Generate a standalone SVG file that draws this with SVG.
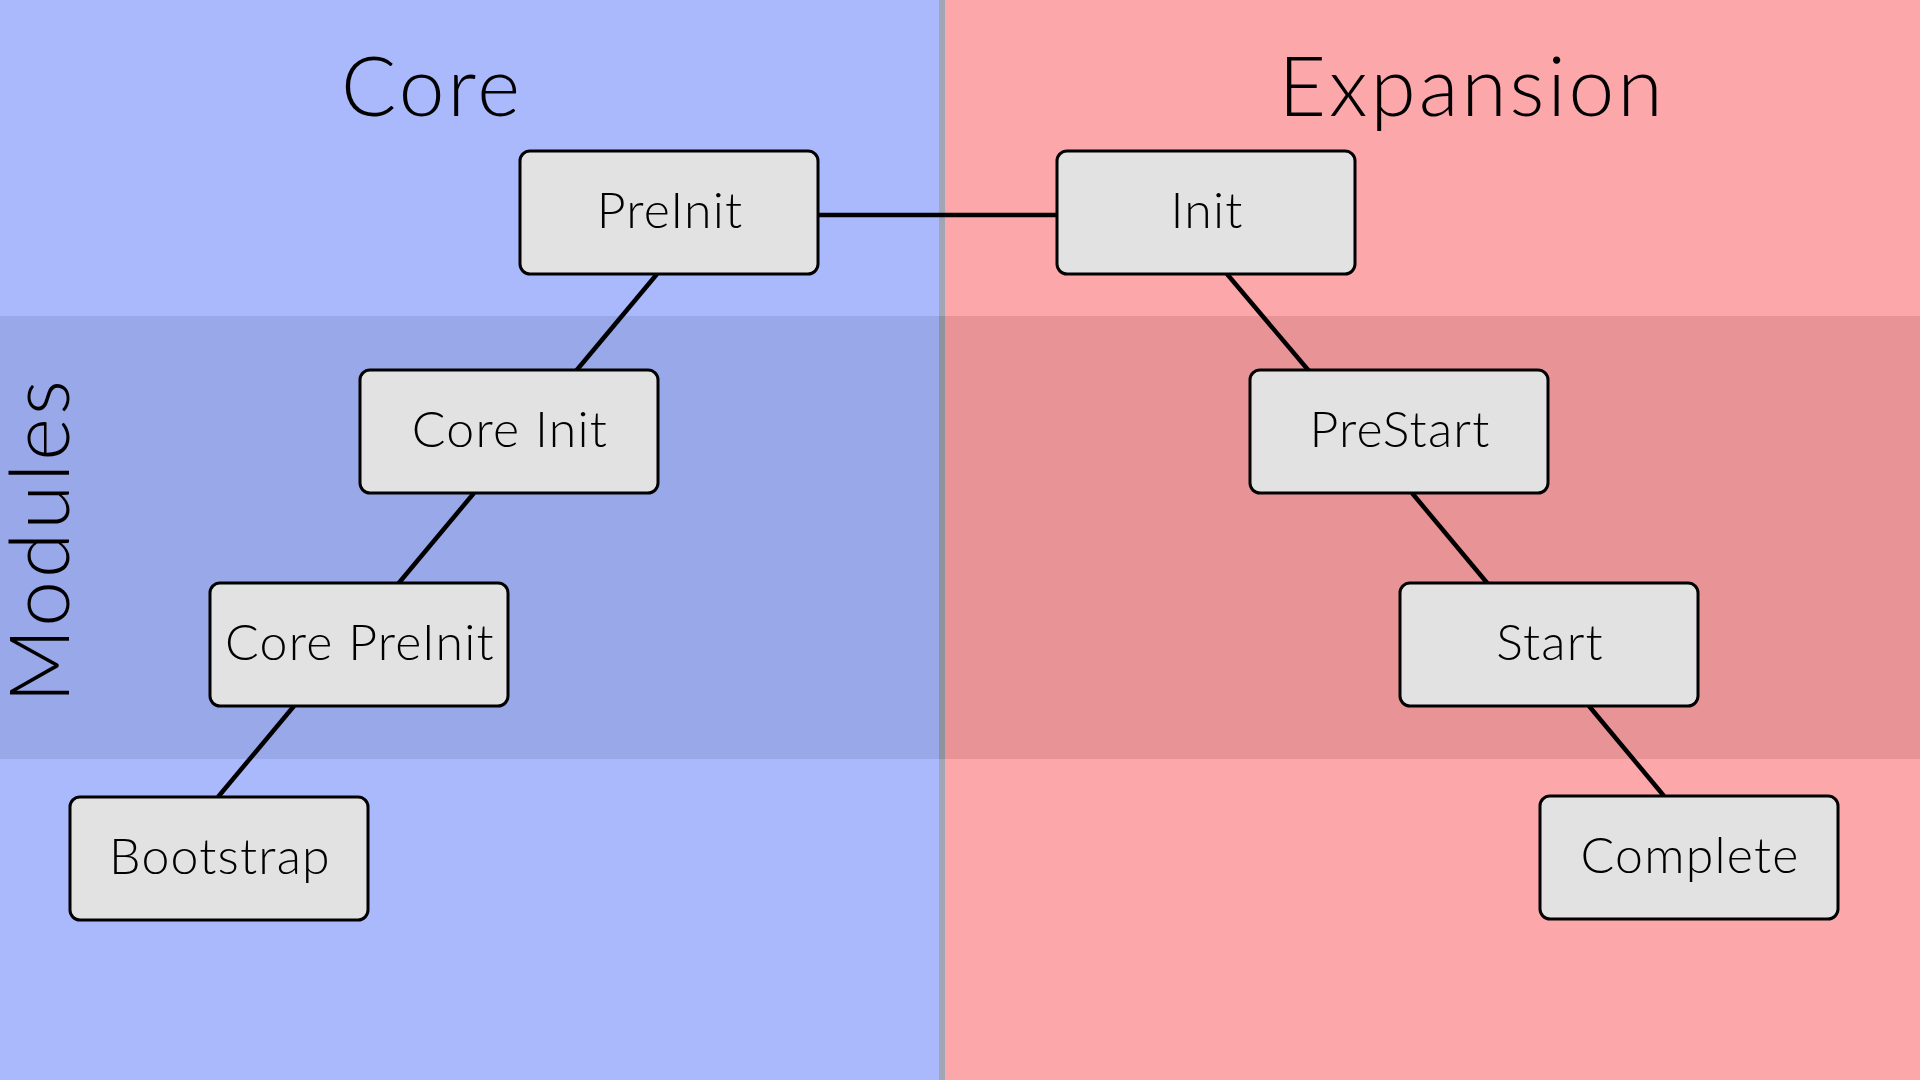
<svg xmlns="http://www.w3.org/2000/svg" width="1920" height="1080" viewBox="0 0 1920 1080">
  <style>
    .node rect { fill: #e2e2e2; stroke: #000; stroke-width: 3; }
    .node text { font-family: Lato, "Open Sans", "Liberation Sans", sans-serif; font-weight: 300; font-size: 50px; letter-spacing: 1.2px; fill: #000; text-anchor: middle; }
    .title { font-family: Lato, "Open Sans", "Liberation Sans", sans-serif; font-weight: 300; font-size: 82px; letter-spacing: 3px; fill: #000; text-anchor: middle; }
    #connectors line { stroke: #000; stroke-width: 4.5; }
  </style>
  <g id="background">
    <rect x="0" y="0" width="942" height="1080" fill="#aab8fc"/>
    <rect x="942" y="0" width="978" height="1080" fill="#fca7aa"/>
    <rect x="0" y="316" width="942" height="443" fill="#98a8e8"/>
    <rect x="942" y="316" width="978" height="443" fill="#e89496"/>
    <rect x="939" y="0" width="6" height="316" fill="#a2a6b4"/>
    <rect x="939" y="316" width="6" height="443" fill="#8f939e"/>
    <rect x="939" y="759" width="6" height="321" fill="#a2a6b4"/>
  </g>
  <g id="labels">
    <text class="title" x="432" y="116">Core</text>
    <text class="title" x="1472" y="116">Expansion</text>
    <text class="title" transform="translate(69,540) rotate(-90)" x="0" y="0">Modules</text>
  </g>
  <g id="connectors">
    <line x1="818" y1="215" x2="1057" y2="215"/>
    <line x1="657" y1="274" x2="576" y2="371"/>
    <line x1="474" y1="493" x2="398" y2="584"/>
    <line x1="294" y1="706" x2="218" y2="797"/>
    <line x1="1227" y1="274" x2="1309" y2="371"/>
    <line x1="1412" y1="493" x2="1488" y2="584"/>
    <line x1="1589" y1="706" x2="1664" y2="796"/>
  </g>
  <g id="node-preinit" class="node">
    <rect x="520" y="151" width="298" height="123" rx="10"/>
    <text x="670" y="228">PreInit</text>
  </g>
  <g id="node-init" class="node">
    <rect x="1057" y="151" width="298" height="123" rx="10"/>
    <text x="1207" y="228">Init</text>
  </g>
  <g id="node-core-init" class="node">
    <rect x="360" y="370" width="298" height="123" rx="10"/>
    <text x="510" y="447">Core Init</text>
  </g>
  <g id="node-prestart" class="node">
    <rect x="1250" y="370" width="298" height="123" rx="10"/>
    <text x="1400" y="447">PreStart</text>
  </g>
  <g id="node-core-preinit" class="node">
    <rect x="210" y="583" width="298" height="123" rx="10"/>
    <text x="360" y="660">Core PreInit</text>
  </g>
  <g id="node-start" class="node">
    <rect x="1400" y="583" width="298" height="123" rx="10"/>
    <text x="1550" y="660">Start</text>
  </g>
  <g id="node-bootstrap" class="node">
    <rect x="70" y="797" width="298" height="123" rx="10"/>
    <text x="220" y="874">Bootstrap</text>
  </g>
  <g id="node-complete" class="node">
    <rect x="1540" y="796" width="298" height="123" rx="10"/>
    <text x="1690" y="873">Complete</text>
  </g>
</svg>
